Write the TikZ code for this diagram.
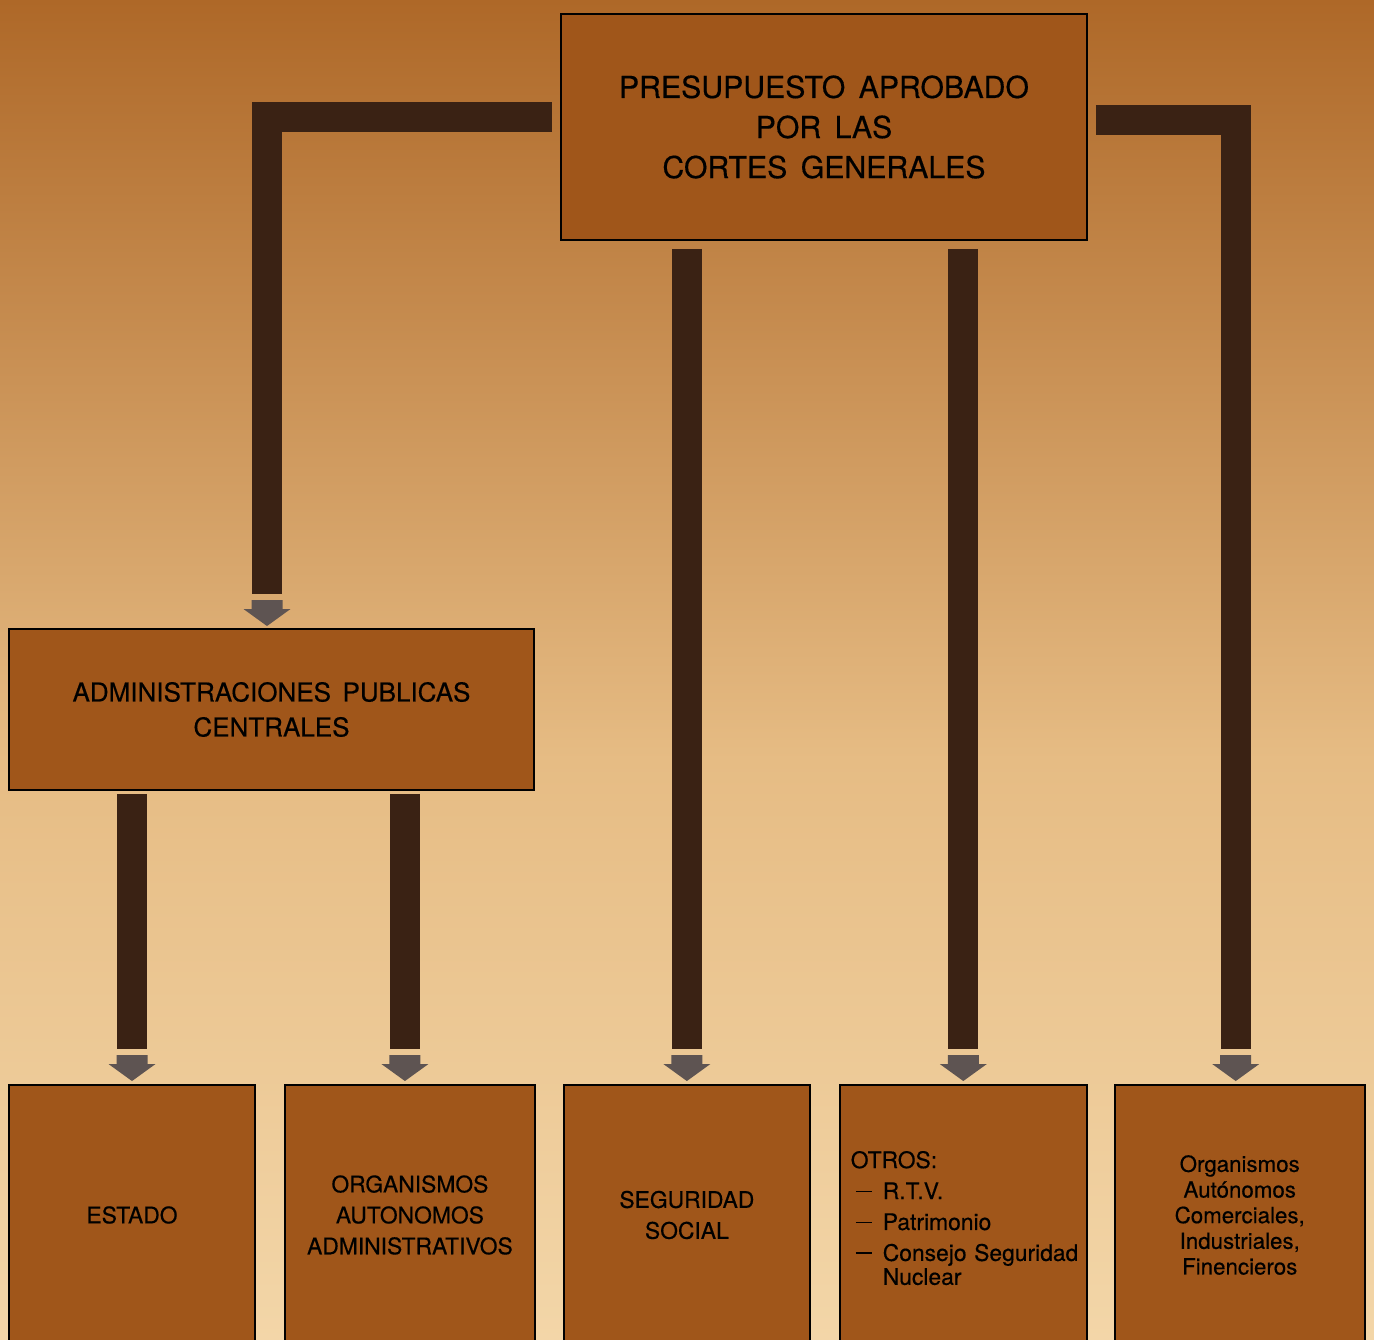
\documentclass[tikz,border=0pt]{standalone}
\usepackage{fontspec}
\setmainfont[FakeBold=0.4,WordSpace=1.6]{TeX Gyre Heros}
\usetikzlibrary{calc,positioning}

\definecolor{bgtop}{HTML}{AE6828}
\definecolor{bgmid}{HTML}{E6BC84}
\definecolor{bglow}{HTML}{F3D6A8}
\definecolor{boxfill}{HTML}{A0561A}
\definecolor{barbrown}{HTML}{3A2214}
\definecolor{tipgray}{HTML}{5E5452}

\newcommand{\itemdash}{\rule[0.3em]{0.7em}{0.07em}}

\begin{document}
\begin{tikzpicture}[
    topbox/.style={rectangle,draw=black,line width=1.1pt,fill=boxfill,minimum width=10.52cm,minimum height=4.52cm,align=center,font=\fontsize{17.2}{22.8}\selectfont},
    midbox/.style={rectangle,draw=black,line width=1.1pt,fill=boxfill,minimum width=10.5cm,minimum height=3.22cm,align=center,font=\fontsize{14.8}{19.9}\selectfont},
    leafbox/.style={rectangle,draw=black,line width=1.1pt,fill=boxfill,minimum width=4.94cm,minimum height=5.2cm,align=center,font=\fontsize{13}{17.6}\selectfont},
    bar/.style={draw=barbrown,line width=0.6cm},
    downtip/.pic={\fill[tipgray] (-0.31,0.52) -- (0.31,0.52) -- (0.31,0.34) -- (0.47,0.34) -- (0,0) -- (-0.47,0.34) -- (-0.31,0.34) -- cycle;}
    ]

    \clip (0,0) rectangle (27.48,-26.8);
    \shade[top color=bgtop,bottom color=bgmid] (0,0) rectangle (27.48,-15.2);
    \shade[top color=bgmid,bottom color=bglow] (0,-15.2) rectangle (27.48,-26.8);

    \node(top) [topbox] at (16.48,-2.54) {PRESUPUESTO APROBADO\\POR LAS\\CORTES GENERALES};
    \node(admin) [midbox] at (5.43,-14.19) {ADMINISTRACIONES PUBLICAS\\CENTRALES};

    \node(estado) [leafbox,minimum width=4.92cm] at (2.64,-24.3) {ESTADO};
    \node(org) [leafbox,minimum width=5cm,right=0.56cm of estado] {ORGANISMOS\\AUTONOMOS\\ADMINISTRATIVOS};
    \node(seg) [leafbox,minimum width=4.92cm,right=0.54cm of org] {SEGURIDAD\\SOCIAL};
    \node(otros) [leafbox,right=0.56cm of seg,align=left,inner sep=0.22cm,text width=4.5cm] {
      \begin{tabular}{@{\hspace{0.1cm}}l@{\hspace{0.22cm}}l@{}}
        \multicolumn{2}{@{}l}{OTROS:}\\
        \itemdash & R.T.V.\\
        \itemdash & Patrimonio\\
        \itemdash & Consejo Seguridad\\[-4pt]
                  & Nuclear\\[-6pt]
      \end{tabular}
    };
    \node(organ) [leafbox,minimum width=5cm,right=0.52cm of otros,font=\fontsize{12.7}{14.6}\selectfont] {Organismos\\Autónomos\\Comerciales,\\Industriales,\\Finencieros};

    % bars from the top box
    \draw[bar] ([xshift=-0.16cm,yshift=0.19cm]top.west) -| ([xshift=-0.09cm,yshift=0.68cm]admin.north);
    \draw[bar] ([xshift=0.16cm,yshift=0.13cm]top.east) -| ([xshift=-0.08cm,yshift=0.7cm]organ.north);
    \draw[bar,shorten <=0.16cm,shorten >=0.7cm] (seg.north |- top.south) -- (seg.north);
    \draw[bar,shorten <=0.16cm,shorten >=0.7cm] (otros.north |- top.south) -- (otros.north);

    % bars from the central administration
    \draw[bar,shorten <=0.06cm,shorten >=0.7cm] (estado.north |- admin.south) -- (estado.north);
    \draw[bar,shorten <=0.06cm,shorten >=0.7cm] ([xshift=-0.1cm]org.north |- admin.south) -- ([xshift=-0.1cm]org.north);

    \pic at ([xshift=-0.09cm,yshift=0.04cm]admin.north) {downtip};
    \pic at ([xshift=-0.08cm,yshift=0.06cm]organ.north) {downtip};
    \pic at ([xshift=-0.1cm,yshift=0.06cm]org.north) {downtip};
    \foreach \n in {estado,seg,otros}
      \pic at ([yshift=0.06cm]\n.north) {downtip};

\end{tikzpicture}
\end{document}
